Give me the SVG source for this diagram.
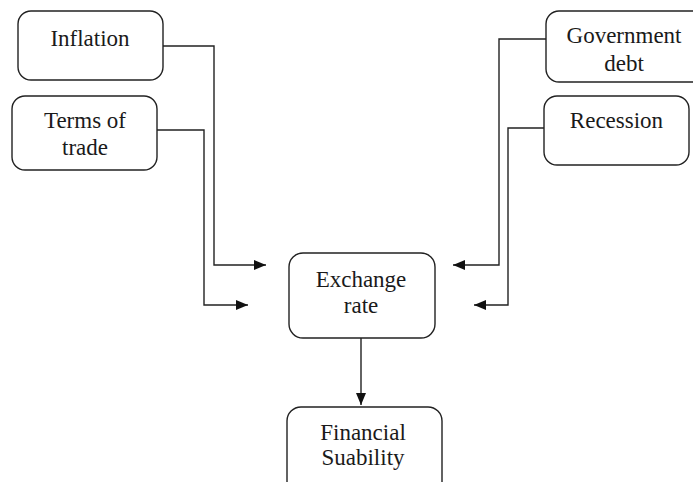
<svg xmlns="http://www.w3.org/2000/svg" width="693" height="482" viewBox="0 0 693 482">
  <style>
    .box { fill: #ffffff; stroke: #222222; stroke-width: 1.4; }
    .lbl { font-family: "Liberation Serif", "Times New Roman", serif; font-size: 23px; fill: #1a1a1a; text-anchor: middle; }
    .wire { fill: none; stroke: #222222; stroke-width: 1.4; }
  </style>
  <defs>
    <marker id="arrow" viewBox="0 0 12 10" refX="12" refY="5" markerWidth="12" markerHeight="10" markerUnits="userSpaceOnUse" orient="auto">
      <path d="M0,0 L12,5 L0,10 Z" fill="#111111"/>
    </marker>
  </defs>
  <rect width="693" height="482" fill="#ffffff"/>

  <g id="connectors">
    <polyline class="wire" points="163,46 214,46 214,265 266,265" marker-end="url(#arrow)"/>
    <polyline class="wire" points="157,130 204,130 204,305 248,305" marker-end="url(#arrow)"/>
    <polyline class="wire" points="546,39 499,39 499,265 453,265" marker-end="url(#arrow)"/>
    <polyline class="wire" points="544,128 508,128 508,305 474,305" marker-end="url(#arrow)"/>
    <line class="wire" x1="361" y1="338" x2="361" y2="405" marker-end="url(#arrow)"/>
  </g>

  <g id="inflation">
    <rect class="box" x="18" y="11" width="145" height="69" rx="13"/>
    <text class="lbl" x="90" y="46">Inflation</text>
  </g>

  <g id="terms-of-trade">
    <rect class="box" x="12" y="96" width="145" height="74" rx="13"/>
    <text class="lbl" x="85" y="128">Terms of</text>
    <text class="lbl" x="85" y="155">trade</text>
  </g>

  <g id="government-debt">
    <rect class="box" x="546" y="11" width="160" height="71" rx="13"/>
    <text class="lbl" x="624" y="43">Government</text>
    <text class="lbl" x="624" y="71">debt</text>
  </g>

  <g id="recession">
    <rect class="box" x="544" y="96" width="145" height="69" rx="13"/>
    <text class="lbl" x="616.5" y="128">Recession</text>
  </g>

  <g id="exchange-rate">
    <rect class="box" x="289" y="253" width="146" height="85" rx="14"/>
    <text class="lbl" x="361" y="287">Exchange</text>
    <text class="lbl" x="361" y="313">rate</text>
  </g>

  <g id="financial-stability">
    <rect class="box" x="287" y="407" width="155" height="90" rx="14"/>
    <text class="lbl" x="363" y="440">Financial</text>
    <text class="lbl" x="363" y="465">Suability</text>
  </g>
</svg>
